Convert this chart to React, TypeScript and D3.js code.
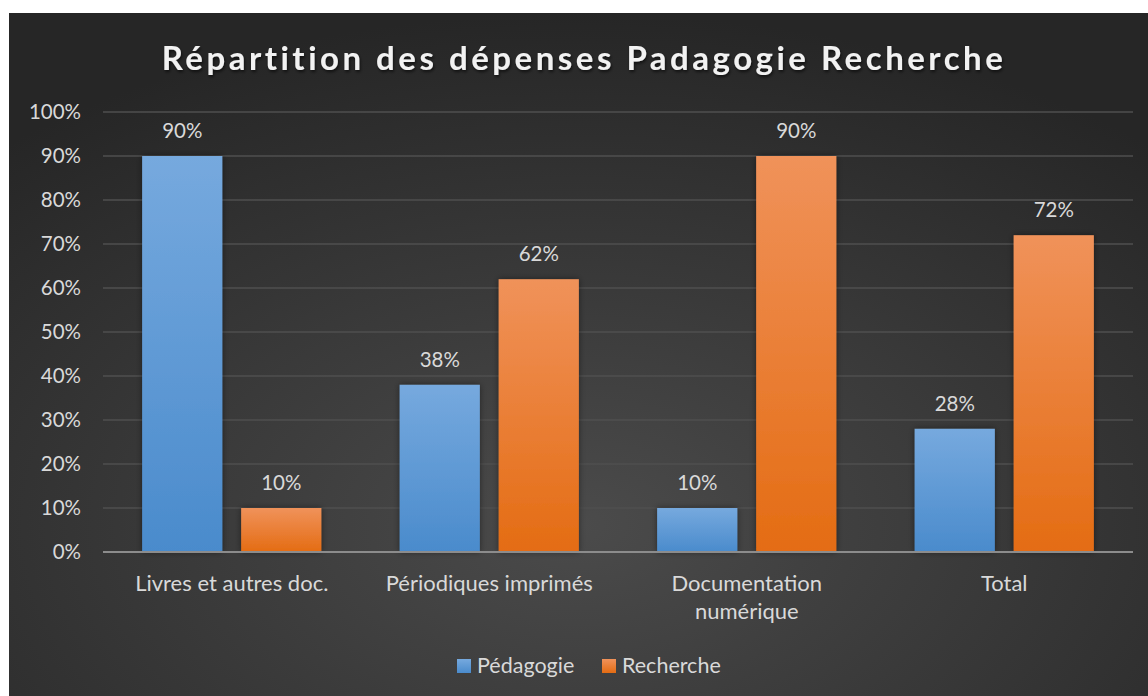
import React from "react";
import * as d3 from "d3";

const categories = ["Livres et autres doc.", "Périodiques imprimés", "Documentation numérique", "Total"];
const categoryLines = [["Livres et autres doc."], ["Périodiques imprimés"], ["Documentation", "numérique"], ["Total"]];
const seriesNames = ["Pédagogie", "Recherche"];
const pedagogie = [0.9, 0.38, 0.1, 0.28];
const recherche = [0.1, 0.62, 0.9, 0.72];
const yTicks = [0, 0.1, 0.2, 0.3, 0.4, 0.5, 0.6, 0.7, 0.8, 0.9, 1.0];

const W = 1148, H = 696;
const FONT = "Lato, 'Open Sans', 'DejaVu Sans', sans-serif";

export default function App() {
  const x0 = 103, x1 = 1133, yTop = 112, yBot = 552;
  const x = d3.scaleBand<string>().domain(categories).range([x0, x1]).paddingInner(0.304).paddingOuter(0.152);
  const y = d3.scaleLinear().domain([0, 1]).range([yBot, yTop]);
  const sub = d3.scaleBand<string>().domain(seriesNames).range([0, x.bandwidth()]).paddingInner(0.19);
  const series = [pedagogie, recherche];
  const fills = ["url(#gBlue)", "url(#gOrange)"];
  const fmt = d3.format(".0%");

  return (
    <svg width={W} height={H} style={{ position: "absolute", left: 0, top: 0 }}>
      <defs>
        <radialGradient id="bg" cx="0.5" cy="0.75" r="0.75">
          <stop offset="0" stopColor="#4b4b4b" />
          <stop offset="1" stopColor="#262626" />
        </radialGradient>
        <linearGradient id="gBlue" x1="0" y1="0" x2="0" y2="1">
          <stop offset="0" stopColor="#76a9de" />
          <stop offset="1" stopColor="#4a8bcc" />
        </linearGradient>
        <linearGradient id="gOrange" x1="0" y1="0" x2="0" y2="1">
          <stop offset="0" stopColor="#f0925a" />
          <stop offset="1" stopColor="#e46c13" />
        </linearGradient>
        <filter id="shadow" x="-20%" y="-20%" width="140%" height="140%">
          <feDropShadow dx="0" dy="0" stdDeviation="3" floodColor="#000" floodOpacity="0.45" />
        </filter>
        <filter id="tshadow" x="-5%" y="-20%" width="110%" height="150%">
          <feDropShadow dx="1" dy="2" stdDeviation="1.5" floodColor="#000" floodOpacity="0.6" />
        </filter>
      </defs>
      <rect x={9} y={13} width={W - 9} height={H - 13} fill="url(#bg)" />
      <text x={584} y={70} textAnchor="middle" fill="#f2f2f2" fontFamily={FONT} fontWeight="bold"
        fontSize={33} letterSpacing={3.5} filter="url(#tshadow)">
        Répartition des dépenses Padagogie Recherche
      </text>
      {yTicks.map((t) => (
        <g key={t}>
          {t > 0 && <line x1={x0} x2={x1} y1={y(t)} y2={y(t)} stroke="#4f4f4f" strokeWidth={1.5} />}
          <text x={81} y={y(t) + 7} textAnchor="end" fill="#d9d9d9" fontFamily={FONT} fontSize={20.5}>
            {fmt(t)}
          </text>
        </g>
      ))}
      {categories.map((c, i) => (
        <g key={c}>
          {series.map((s, j) => {
            const bx = (x(c) as number) + (sub(seriesNames[j]) as number);
            return (
              <g key={j}>
                <rect x={bx} y={y(s[i])} width={sub.bandwidth()} height={yBot - y(s[i])} fill={fills[j]} filter="url(#shadow)" />
                <text x={bx + sub.bandwidth() / 2} y={y(s[i]) - 18} textAnchor="middle" fill="#d9d9d9" fontFamily={FONT} fontSize={20.5}>
                  {fmt(s[i])}
                </text>
              </g>
            );
          })}
          {categoryLines[i].map((ln, k) => (
            <text key={k} x={(x(c) as number) + x.bandwidth() / 2} y={591 + k * 28} textAnchor="middle" fill="#d9d9d9" fontFamily={FONT} fontSize={22}>
              {ln}
            </text>
          ))}
        </g>
      ))}
      <line x1={x0} x2={x1} y1={yBot} y2={yBot} stroke="#8c8c8c" strokeWidth={2} />
      {seriesNames.map((n, j) => {
        const lx = [457, 602][j];
        return (
          <g key={n}>
            <rect x={lx} y={659} width={14} height={14} fill={fills[j]} />
            <text x={lx + 20} y={673} fill="#d9d9d9" fontFamily={FONT} fontSize={21.5}>{n}</text>
          </g>
        );
      })}
    </svg>
  );
}
